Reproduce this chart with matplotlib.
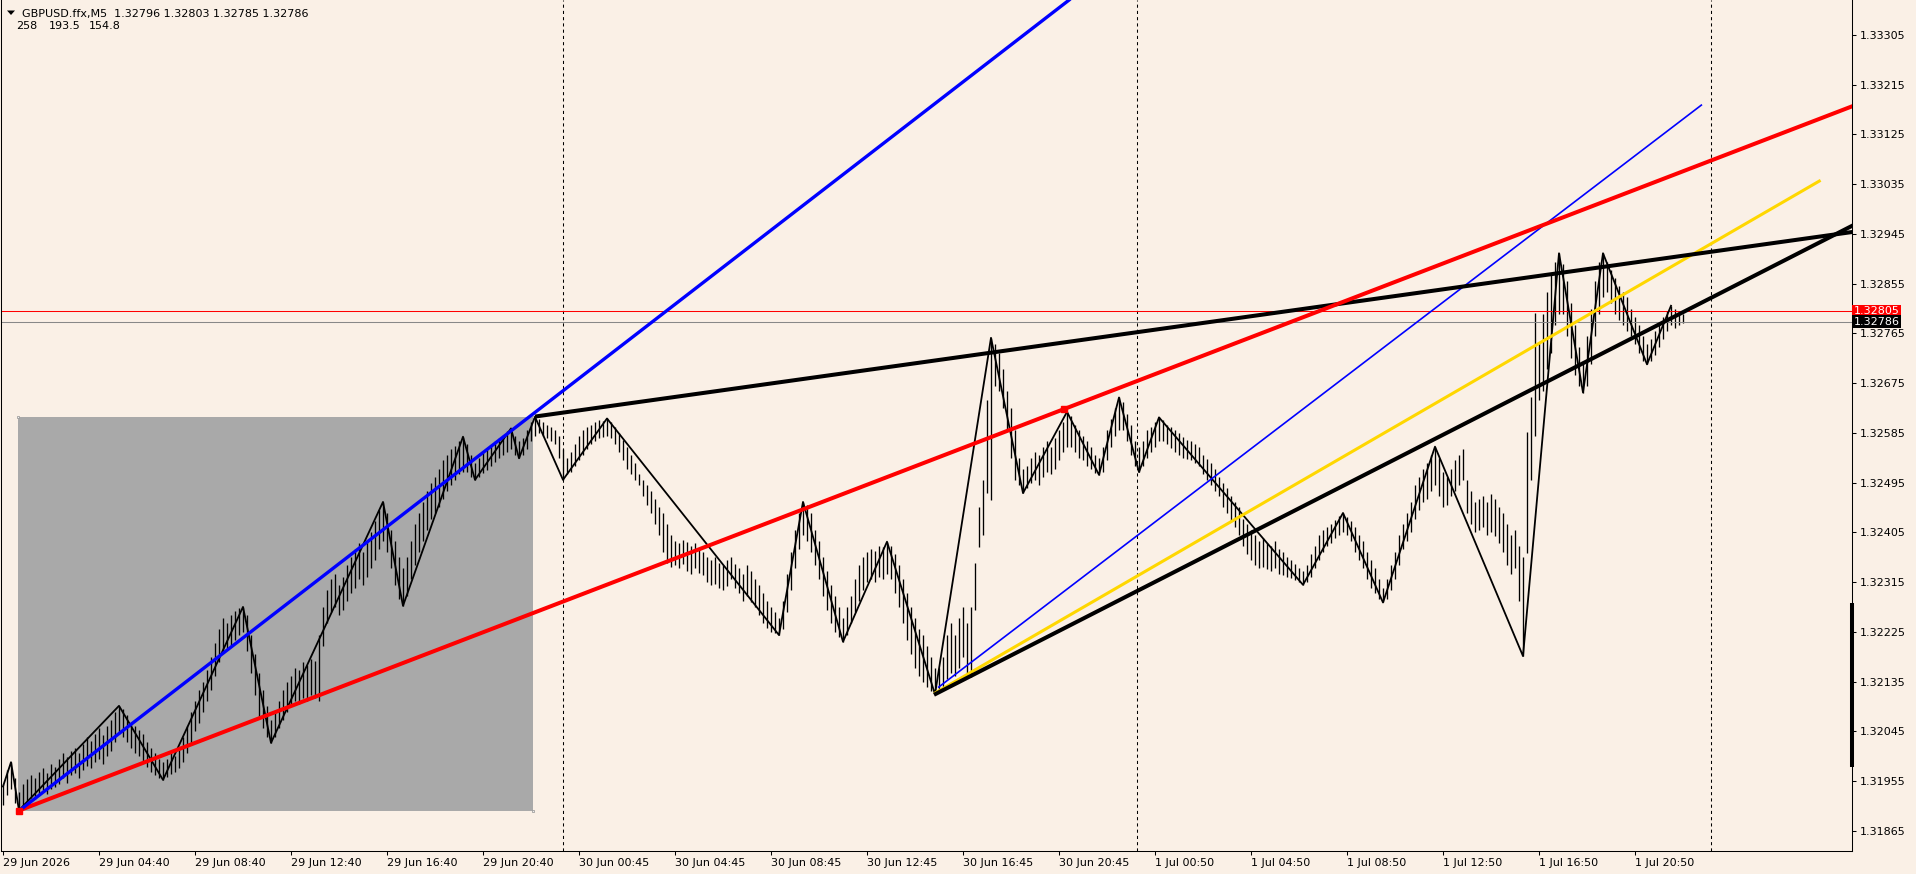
import numpy as np
import matplotlib.pyplot as plt
from matplotlib.patches import Rectangle, Polygon


W, H = 1916, 874
BASE = 1.31800

# bars (10 min each), highs and lows in points above 1.31800
bar_hi = [150, 175, 189, 160, 135, 150, 158, 165, 160, 172,
          178, 170, 185, 180, 195, 205, 198, 210, 215, 205,
          222, 235, 228, 240, 250, 238, 255, 265, 280, 291,
          285, 275, 262, 255, 248, 240, 225, 215, 205, 195,
          190, 195, 205, 200, 215, 235, 255, 280, 300, 320,
          335, 355, 380, 405, 430, 450, 440, 455, 462, 468,
          470, 455, 420, 385, 350, 320, 290, 265, 280, 300,
          320, 335, 345, 360, 355, 370, 365, 375, 372, 420,
          470, 500, 520, 530, 510, 525, 545, 560, 575, 585,
          570, 590, 605, 625, 645, 660, 640, 610, 590, 560,
          540, 560, 590, 620, 640, 660, 680, 695, 705, 720,
          735, 745, 755, 762, 770, 778, 765, 745, 730, 740,
          750, 755, 762, 770, 775, 782, 788, 793, 780, 770,
          775, 790, 805, 814, 810, 805, 800, 795, 790, 780,
          755, 740, 750, 765, 780, 790, 795, 800, 805, 808,
          806, 811, 805, 795, 785, 772, 760, 745, 730, 710,
          700, 690, 680, 665, 650, 640, 620, 600, 590, 585,
          592, 588, 580, 585, 575, 570, 560, 555, 560, 550,
          545, 555, 560, 548, 540, 530, 545, 535, 520, 510,
          495, 480, 470, 460, 450, 480, 530, 570, 610, 640,
          660, 655, 640, 610, 590, 560, 535, 510, 490, 470,
          450, 470, 490, 520, 545, 560, 570, 575, 572, 580,
          578, 588, 580, 565, 545, 520, 495, 470, 450, 430,
          420, 400, 380, 360, 360, 380, 420, 440, 420, 450,
          470, 440, 470, 550, 650, 700, 844, 957, 945, 930,
          900, 860, 830, 790, 740, 720, 725, 740, 750, 745,
          760, 770, 760, 775, 790, 805, 823, 815, 800, 790,
          780, 770, 760, 745, 740, 760, 790, 810, 830, 849,
          840, 820, 800, 770, 760, 770, 790, 795, 805, 813,
          808, 800, 795, 790, 785, 778, 772, 770, 765, 760,
          745, 738, 730, 720, 705, 695, 685, 670, 660, 650,
          630, 620, 610, 600, 590, 595, 585, 580, 590, 575,
          570, 560, 555, 548, 540, 535, 545, 565, 580, 600,
          610, 615, 620, 628, 635, 640, 632, 625, 615, 600,
          590, 570, 555, 540, 520, 505, 520, 545, 570, 600,
          620, 640, 660, 690, 705, 720, 730, 745, 760, 740,
          715, 705, 720, 735, 745, 755, 700, 680, 660, 665,
          670, 660, 675, 665, 650, 640, 620, 600, 610, 580,
          560, 786, 850, 1002, 950, 1000, 1040, 1070, 1095, 1110,
          1090, 1060, 1020, 980, 940, 910, 960, 1010, 1060, 1095,
          1110, 1095, 1080, 1065, 1050, 1040, 1030, 1010, 995, 980,
          960, 945, 955, 970, 985, 995, 1005, 1015, 1010, 1005,
          1000]
bar_lo = [112, 130, 140, 115, 102, 108, 118, 125, 122, 130,
          138, 132, 140, 145, 150, 160, 152, 165, 170, 160,
          175, 182, 178, 190, 195, 185, 200, 210, 225, 240,
          235, 225, 215, 205, 200, 192, 180, 172, 165, 160,
          157, 162, 168, 172, 178, 190, 205, 220, 245, 260,
          280, 300, 320, 345, 370, 390, 395, 400, 410, 420,
          425, 390, 350, 310, 270, 250, 235, 224, 235, 250,
          265, 280, 290, 300, 295, 305, 300, 310, 305, 300,
          400, 440, 460, 470, 455, 465, 480, 495, 505, 520,
          510, 525, 540, 555, 575, 590, 570, 540, 510, 485,
          472, 490, 520, 545, 570, 590, 610, 630, 640, 650,
          665, 680, 690, 700, 710, 715, 715, 705, 700, 705,
          712, 718, 725, 732, 740, 745, 750, 755, 745, 739,
          745, 755, 770, 780, 785, 780, 775, 770, 765, 740,
          700, 710, 715, 725, 735, 745, 755, 765, 770, 775,
          778, 780, 775, 765, 750, 735, 720, 710, 700, 690,
          670, 655, 640, 620, 600, 570, 550, 542, 545, 540,
          548, 535, 530, 540, 532, 528, 515, 510, 512, 505,
          500, 508, 520, 505, 495, 480, 490, 478, 470, 455,
          440, 432, 425, 422, 419, 430, 460, 500, 540, 575,
          600, 590, 570, 545, 520, 490, 465, 440, 425, 415,
          407, 420, 440, 460, 480, 500, 515, 520, 515, 525,
          520, 530, 520, 495, 470, 440, 410, 385, 360, 345,
          335, 325, 318, 312, 318, 325, 340, 350, 345, 360,
          380, 345, 343, 465, 578, 600, 676, 663, 870, 860,
          830, 790, 740, 700, 690, 676, 685, 695, 700, 690,
          705, 715, 710, 720, 735, 750, 760, 760, 750, 740,
          735, 725, 720, 712, 709, 715, 735, 760, 780, 790,
          790, 770, 745, 725, 714, 725, 740, 750, 760, 770,
          770, 765, 758, 750, 745, 740, 738, 735, 730, 725,
          710, 700, 690, 680, 670, 650, 640, 625, 615, 600,
          580, 565, 555, 545, 540, 542, 538, 535, 540, 530,
          528, 525, 522, 518, 515, 510, 515, 525, 540, 555,
          570, 580, 585, 595, 600, 605, 600, 590, 570, 555,
          540, 520, 505, 495, 485, 478, 485, 500, 520, 545,
          575, 590, 605, 630, 645, 660, 665, 680, 690, 670,
          650, 655, 670, 680, 690, 700, 640, 620, 605, 610,
          615, 600, 605, 598, 585, 570, 545, 530, 540, 480,
          381, 567, 700, 780, 845, 860, 900, 930, 980, 1000,
          1000, 960, 920, 890, 870, 858, 870, 910, 960, 1000,
          1030, 1040, 1020, 1000, 990, 980, 970, 960, 945, 930,
          915, 909, 915, 925, 940, 955, 970, 980, 975, 980,
          984]

# zigzag pivots (bar index, points)
zz_k = [0, 2, 4, 29, 40, 60, 67, 95, 100, 115, 118, 127, 129, 133, 140,
        151, 194, 200, 210, 221, 233, 247, 255, 266, 274, 279, 284, 289,
        325, 335, 345, 358, 380, 389, 395, 400, 411, 417]
zz_v = [145, 189, 102, 291, 157, 470, 224, 660, 472, 778, 700, 793, 739,
        814, 700, 811, 419, 660, 407, 588, 312, 957, 676, 823, 709, 849,
        714, 813, 510, 640, 478, 760, 381, 1110, 858, 1110, 909, 1015]

# trend lines: two anchor points (bar index, points), ray or segment
lines = {
    'blue_ray':   ((4, 101), (133, 822)),
    'red_ray':    ((4, 101.5), (265.25, 828)),
    'blue_thin':  ((233.75, 324), (424.75, 1379)),
    'yellow':     ((232.75, 313), (454.4, 1242)),
    'black_low':  ((232.75, 311), (454.25, 1130)),
    'black_high': ((133, 814.5), (462.25, 1148.4)),
}

rect_k = [3.8, 132.5]
rect_v = [100, 814]

day_sep_k = [140.1, 283.6, 427.1]

tick_k = [0, 24, 48, 72, 96, 120, 144, 168, 192, 216, 240, 264, 288, 312,
          336, 360, 384, 408]
tick_labels = ['29 Jun 2026', '29 Jun 04:40', '29 Jun 08:40', '29 Jun 12:40',
               '29 Jun 16:40', '29 Jun 20:40', '30 Jun 00:45', '30 Jun 04:45',
               '30 Jun 08:45', '30 Jun 12:45', '30 Jun 16:45', '30 Jun 20:45',
               '1 Jul 00:50', '1 Jul 04:50', '1 Jul 08:50', '1 Jul 12:50',
               '1 Jul 16:50', '1 Jul 20:50']
price_ticks = [1.31865, 1.31955, 1.32045, 1.32135, 1.32225, 1.32315, 1.32405,
               1.32495, 1.32585, 1.32675, 1.32765, 1.32855, 1.32945, 1.33035,
               1.33125, 1.33215, 1.33305]

ask_line = 1.32805
bid_line = 1.32786


def px(v):
    return BASE + np.asarray(v, dtype=float) * 1e-5


def ray_end(p0, p1, k_end):
    (k0, v0), (k1, v1) = p0, p1
    return v0 + (v1 - v0) * (k_end - k0) / (k1 - k0)


plt.rcParams['font.family'] = ['DejaVu Sans']
bg = '#faf0e6'
fig = plt.figure(figsize=(W / 100, H / 100), dpi=100, facecolor=bg)
ax = fig.add_axes([1 / W, 23 / H, 1851 / W, 851 / H], facecolor=bg)
xmax = 462.25
ax.set_xlim(-0.5, xmax)
ax.set_ylim(1.318283, 1.333683)

ax.add_patch(Rectangle((rect_k[0], px(rect_v[0])), rect_k[1] - rect_k[0],
                       px(rect_v[1]) - px(rect_v[0]), facecolor='#a9a9a9',
                       edgecolor='none', zorder=1))
ax.plot([rect_k[0], rect_k[1], rect_k[0], rect_k[1]],
        px([rect_v[0], rect_v[0], rect_v[1], rect_v[1]]), 's', ms=2,
        mfc='#f0f0f0', mec='#909090', mew=0.5, ls='none', zorder=1.2)

for k in day_sep_k:
    ax.axvline(k, color='black', lw=0.75, ls=(0, (3, 3)), zorder=1.5)

# price bars, thin vertical strokes
ks = np.arange(len(bar_hi))
ax.vlines(ks, px(bar_lo), px(bar_hi), colors='black', lw=0.95, zorder=2)

ax.axhline(ask_line, color='red', lw=0.75, zorder=2.5)
ax.axhline(bid_line, color='#888888', lw=0.75, zorder=2.5)

ax.plot(zz_k, px(zz_v), color='black', lw=1.3, zorder=3)

# rays go to the right edge
def draw_ray(name, color, lw):
    p0, p1 = lines[name]
    ax.plot([p0[0], 470], px([p0[1], ray_end(p0, p1, 470)]), color=color,
            lw=lw, solid_capstyle='butt', zorder=4)


def draw_seg(name, color, lw):
    p0, p1 = lines[name]
    ax.plot([p0[0], p1[0]], px([p0[1], p1[1]]), color=color, lw=lw,
            solid_capstyle='butt', zorder=4)


draw_seg('blue_thin', '#0000ff', 1.2)
draw_seg('yellow', '#ffd700', 2.2)
draw_ray('black_low', 'black', 2.9)
draw_ray('black_high', 'black', 2.9)
draw_ray('red_ray', '#ff0000', 2.9)
draw_ray('blue_ray', '#0000ff', 2.4)
red_pts = lines['red_ray']
ax.plot([red_pts[0][0], red_pts[1][0]], px([red_pts[0][1], red_pts[1][1]]),
        's', color='#ff0000', ms=4.5, ls='none', zorder=4.5)

# axis look
for side in ['left', 'bottom', 'right']:
    ax.spines[side].set_color('black')
    ax.spines[side].set_linewidth(0.75)
ax.spines['top'].set_visible(False)

ax.yaxis.tick_right()
ax.set_yticks(price_ticks, ['%.5f' % p for p in price_ticks])
ax.tick_params(axis='y', direction='out', length=3, width=0.75, pad=2.5,
               labelsize=8, colors='black')
ax.set_xticks(tick_k, tick_labels)
ax.tick_params(axis='x', direction='out', length=3, width=0.75, pad=2,
               labelsize=8, colors='black')
for lab in ax.get_xticklabels():
    lab.set_horizontalalignment('left')

# thick marker on the price scale
ax.plot([xmax, xmax], px([180, 477]), color='black', lw=2.9,
        solid_capstyle='butt', clip_on=False, zorder=5)

# price labels for ask / bid
yt = ax.get_yaxis_transform()
ax.text(1.0009, ask_line, '%.5f' % ask_line, transform=yt, color='white',
        fontsize=8, ha='left', va='center', clip_on=False, zorder=10,
        bbox=dict(boxstyle='square,pad=0.15', fc='#ff0000', ec='none'))
ax.text(1.0009, bid_line, '%.5f' % bid_line, transform=yt, color='white',
        fontsize=8, ha='left', va='center', clip_on=False, zorder=11,
        bbox=dict(boxstyle='square,pad=0.15', fc='black', ec='none'))

# header text in the top left corner
fig.add_artist(Polygon([(7 / W, 1 - 10.5 / H), (15 / W, 1 - 10.5 / H),
                        (11 / W, 1 - 15 / H)], closed=True,
                       transform=fig.transFigure, fc='black', ec='none'))
fig.text(22.5 / W, 1 - 16.8 / H,
         'GBPUSD.ffx,M5  1.32796 1.32803 1.32785 1.32786',
         fontsize=8, va='baseline', ha='left')
for x, s in [(16, '258'), (49.3, '193.5'), (89, '154.8')]:
    fig.text(x / W, 1 - 29.3 / H, s, fontsize=8, va='baseline', ha='left')

fig.savefig('out.png', dpi=100, facecolor=bg)
